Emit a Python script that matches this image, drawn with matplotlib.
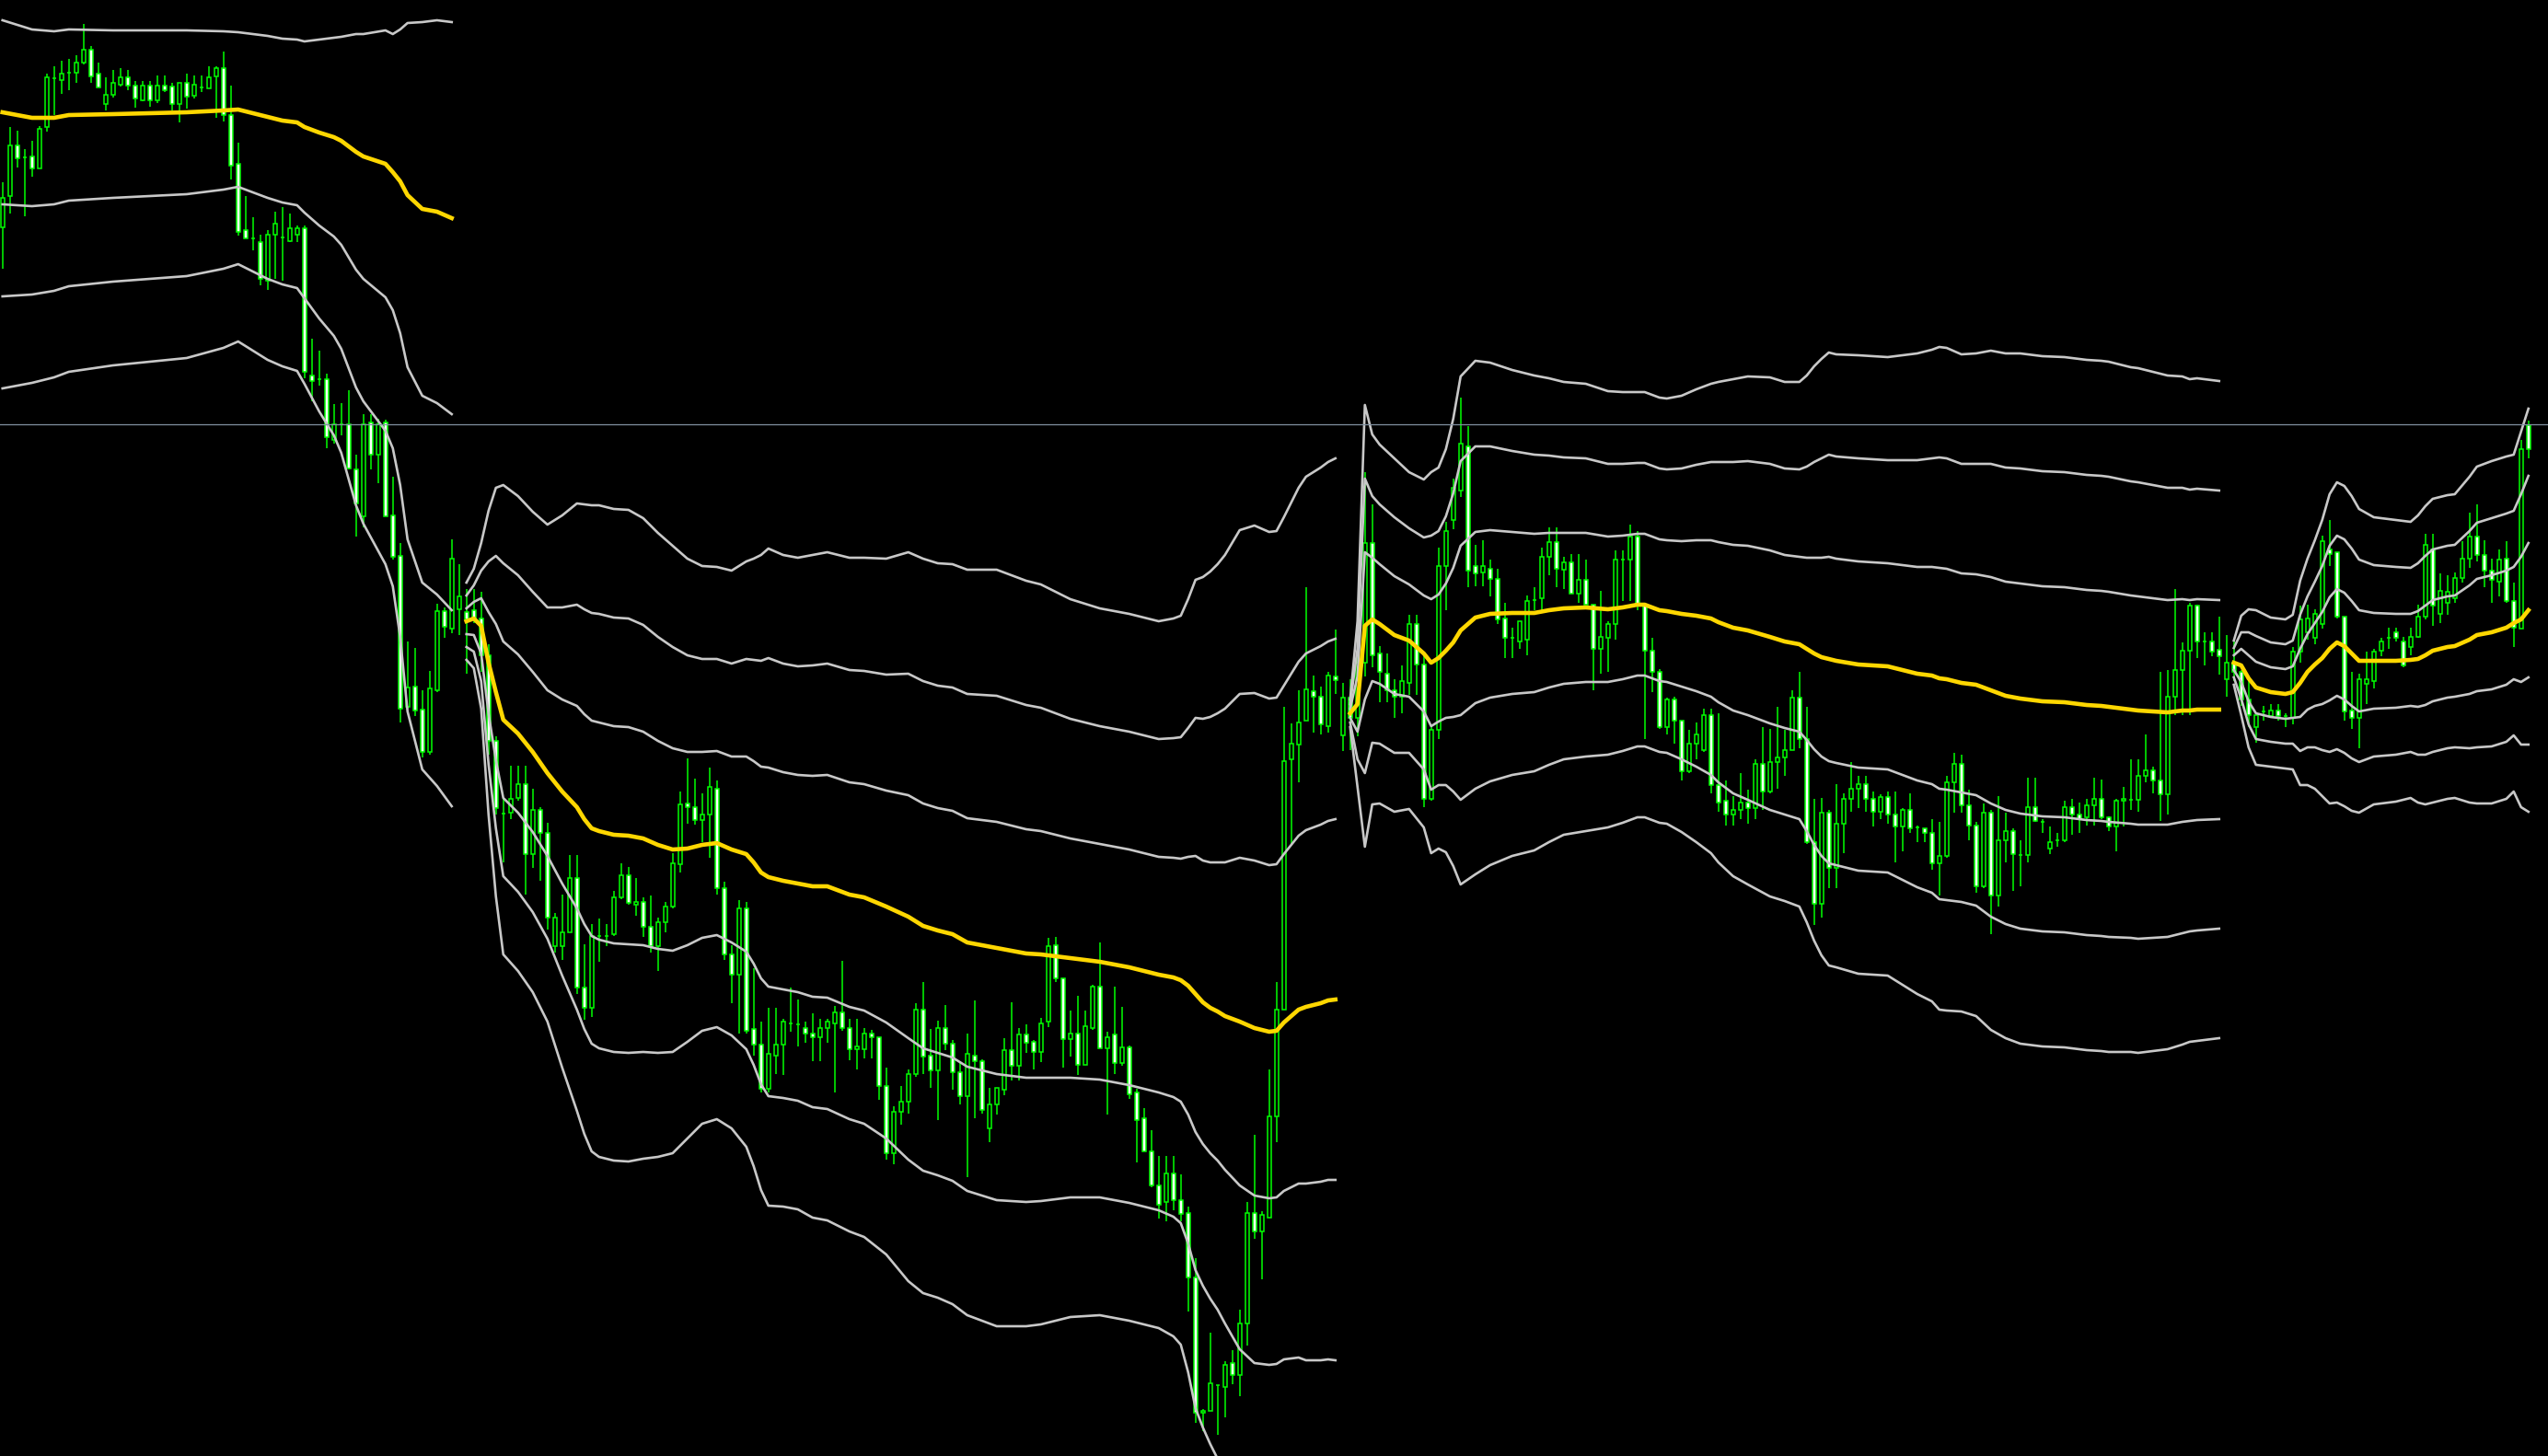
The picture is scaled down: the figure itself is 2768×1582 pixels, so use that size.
import numpy as np
import matplotlib
matplotlib.use('Agg')
import matplotlib.pyplot as plt

# bar data, price in points (one row = 10 bars)
opens = [
    1753, 1787, 1842, 1829, 1830, 1817, 1862, 1915, 1913, 1921,
    1921, 1932, 1946, 1920, 1887, 1897, 1908, 1916, 1907, 1891,
    1907, 1891, 1907, 1906, 1887, 1910, 1896, 1905, 1904, 1917,
    1926, 1875, 1822, 1750, 1741, 1737, 1695, 1745, 1742, 1738,
    1745, 1752, 1592, 1588, 1588, 1522, 1539, 1539, 1490, 1439,
    1541, 1506, 1541, 1440, 1396, 1232, 1254, 1229, 1183, 1250,
    1336, 1317, 1338, 1335, 1337, 1328, 1288, 1195, 1116, 1117,
    1133, 1148, 1072, 1120, 1095, 972, 972, 987, 1046, 927,
    905, 983, 983, 985, 1025, 1049, 1017, 1020, 993, 972,
    998, 1015, 1061, 1127, 1123, 1109, 1115, 1143, 1035, 963,
    941, 1013, 882, 865, 817, 853, 865, 888, 887, 883,
    877, 873, 883, 888, 900, 883, 860, 860, 877, 873,
    820, 747, 792, 803, 833, 903, 853, 837, 883, 866,
    835, 809, 853, 847, 774, 800, 816, 859, 842, 876,
    868, 857, 890, 973, 937, 871, 877, 843, 883, 928,
    861, 876, 845, 862, 813, 785, 749, 712, 694, 725,
    696, 682, 612, 465, 467, 495, 493, 519, 506, 562,
    682, 662, 677, 787, 903, 1175, 1191, 1217, 1249, 1243,
    1211, 1265, 1201, 1242, 1220, 1280, 1410, 1290, 1268, 1250,
    1243, 1258, 1322, 1278, 1132, 1207, 1385, 1435, 1467, 1515,
    1385, 1378, 1382, 1371, 1328, 1307, 1303, 1305, 1348, 1350,
    1395, 1411, 1381, 1389, 1355, 1370, 1343, 1295, 1307, 1322,
    1392, 1392, 1417, 1343, 1293, 1270, 1210, 1240, 1217, 1162,
    1192, 1185, 1223, 1147, 1130, 1115, 1120, 1128, 1122, 1170,
    1140, 1172, 1177, 1185, 1242, 1197, 1085, 1018, 1117, 1057,
    1105, 1132, 1143, 1148, 1132, 1118, 1134, 1115, 1102, 1120,
    1101, 1100, 1095, 1062, 1070, 1150, 1170, 1125, 1103, 1037,
    1117, 1027, 1087, 1097, 1071, 1071, 1123, 1107, 1078, 1087,
    1087, 1123, 1115, 1112, 1125, 1132, 1112, 1102, 1130, 1131,
    1131, 1157, 1163, 1152, 1137, 1243, 1272, 1293, 1342, 1303,
    1303, 1294, 1262, 1280, 1270, 1240, 1210, 1227, 1222, 1228,
    1222, 1220, 1292, 1313, 1307, 1322, 1403, 1400, 1330, 1228,
    1220, 1257, 1260, 1293, 1307, 1313, 1303, 1297, 1308, 1330,
    1403, 1333, 1345, 1350, 1372, 1393, 1417, 1397, 1380, 1368,
    1393, 1347, 1317, 1538,
]
highs = [
    1802, 1862, 1858, 1838, 1847, 1863, 1920, 1928, 1934, 1936,
    1940, 1974, 1950, 1932, 1916, 1924, 1926, 1924, 1912, 1912,
    1912, 1918, 1918, 1910, 1910, 1920, 1918, 1918, 1928, 1928,
    1944, 1907, 1845, 1787, 1764, 1745, 1750, 1770, 1775, 1768,
    1755, 1755, 1632, 1619, 1594, 1561, 1562, 1576, 1506, 1550,
    1550, 1545, 1544, 1482, 1410, 1303, 1296, 1250, 1271, 1344,
    1340, 1414, 1387, 1360, 1360, 1357, 1300, 1200, 1133, 1168,
    1168, 1168, 1143, 1123, 1106, 1008, 1028, 1071, 1071, 974,
    996, 1002, 996, 1032, 1062, 1058, 1046, 1025, 1027, 1003,
    1020, 1073, 1140, 1176, 1154, 1138, 1166, 1152, 1042, 973,
    1022, 1020, 948, 890, 905, 905, 893, 927, 914, 890,
    899, 893, 893, 907, 956, 893, 893, 883, 881, 873,
    840, 798, 820, 838, 910, 933, 882, 891, 908, 870,
    845, 877, 913, 849, 818, 818, 872, 911, 883, 887,
    870, 894, 981, 982, 937, 902, 918, 902, 930, 976,
    879, 928, 906, 864, 817, 796, 772, 744, 744, 744,
    724, 689, 633, 469, 552, 495, 521, 533, 577, 694,
    767, 684, 838, 933, 1232, 1214, 1250, 1362, 1266, 1254,
    1270, 1316, 1258, 1262, 1300, 1487, 1452, 1298, 1290, 1262,
    1277, 1332, 1332, 1288, 1210, 1405, 1433, 1480, 1568, 1537,
    1408, 1413, 1392, 1382, 1345, 1318, 1325, 1353, 1362, 1405,
    1427, 1427, 1395, 1398, 1398, 1392, 1343, 1358, 1325, 1402,
    1402, 1430, 1423, 1343, 1307, 1273, 1242, 1243, 1217, 1207,
    1215, 1230, 1230, 1225, 1152, 1135, 1160, 1142, 1175, 1210,
    1208, 1232, 1207, 1250, 1270, 1232, 1132, 1133, 1120, 1148,
    1138, 1172, 1157, 1157, 1140, 1137, 1140, 1140, 1122, 1138,
    1103, 1100, 1110, 1107, 1157, 1182, 1180, 1142, 1107, 1127,
    1120, 1135, 1117, 1100, 1087, 1155, 1155, 1110, 1102, 1095,
    1130, 1132, 1128, 1132, 1155, 1153, 1113, 1132, 1145, 1175,
    1175, 1202, 1167, 1270, 1272, 1360, 1302, 1345, 1343, 1313,
    1313, 1330, 1310, 1305, 1272, 1265, 1225, 1233, 1235, 1235,
    1225, 1297, 1342, 1343, 1338, 1418, 1435, 1400, 1330, 1270,
    1268, 1292, 1295, 1307, 1318, 1318, 1308, 1318, 1343, 1420,
    1420, 1377, 1375, 1378, 1412, 1443, 1452, 1413, 1393, 1403,
    1412, 1367, 1522, 1543,
]
lows = [
    1708, 1768, 1818, 1765, 1808, 1817, 1857, 1875, 1898, 1902,
    1910, 1930, 1910, 1905, 1880, 1894, 1906, 1902, 1883, 1890,
    1884, 1888, 1900, 1880, 1867, 1882, 1893, 1900, 1904, 1872,
    1868, 1805, 1744, 1741, 1728, 1690, 1685, 1697, 1695, 1737,
    1737, 1589, 1564, 1581, 1513, 1518, 1527, 1490, 1417, 1427,
    1490, 1475, 1439, 1392, 1215, 1230, 1222, 1177, 1180, 1248,
    1307, 1312, 1310, 1268, 1323, 1270, 1180, 1115, 1063, 1110,
    1130, 1028, 1057, 1043, 990, 965, 957, 987, 920, 892,
    895, 955, 972, 983, 1023, 1017, 1005, 982, 965, 945,
    987, 1013, 1052, 1105, 1104, 1085, 1068, 1028, 957, 910,
    877, 877, 853, 813, 813, 833, 832, 879, 863, 867,
    847, 847, 867, 813, 880, 848, 838, 850, 850, 805,
    740, 735, 778, 790, 830, 833, 818, 783, 859, 816,
    800, 721, 785, 790, 759, 789, 810, 826, 826, 856,
    838, 846, 884, 933, 840, 852, 832, 843, 881, 861,
    789, 833, 842, 806, 737, 749, 710, 676, 673, 685,
    673, 575, 454, 445, 467, 441, 460, 496, 483, 538,
    654, 610, 677, 759, 903, 1083, 1150, 1217, 1204, 1202,
    1204, 1246, 1184, 1185, 1200, 1265, 1275, 1237, 1237, 1220,
    1225, 1245, 1245, 1123, 1130, 1197, 1337, 1425, 1460, 1362,
    1363, 1363, 1352, 1322, 1285, 1285, 1295, 1288, 1337, 1337,
    1375, 1362, 1360, 1355, 1345, 1343, 1250, 1268, 1270, 1305,
    1347, 1347, 1337, 1197, 1248, 1208, 1202, 1192, 1152, 1160,
    1175, 1183, 1138, 1118, 1103, 1103, 1110, 1105, 1110, 1120,
    1138, 1143, 1157, 1185, 1187, 1083, 995, 1003, 1035, 1035,
    1073, 1118, 1122, 1118, 1102, 1110, 1105, 1063, 1075, 1095,
    1085, 1085, 1055, 1027, 1068, 1117, 1117, 1087, 1030, 1035,
    985, 1015, 1063, 1032, 1037, 1063, 1107, 1095, 1072, 1080,
    1085, 1093, 1095, 1103, 1103, 1110, 1097, 1075, 1102, 1120,
    1118, 1150, 1138, 1108, 1115, 1223, 1223, 1223, 1285, 1277,
    1287, 1267, 1243, 1260, 1233, 1210, 1193, 1217, 1222, 1217,
    1210, 1213, 1280, 1305, 1300, 1317, 1385, 1328, 1217, 1208,
    1187, 1235, 1252, 1287, 1295, 1303, 1275, 1288, 1307, 1327,
    1320, 1323, 1332, 1345, 1367, 1383, 1390, 1362, 1345, 1352,
    1345, 1297, 1317, 1502,
]
closes = [
    1785, 1842, 1828, 1829, 1817, 1860, 1916, 1915, 1920, 1921,
    1932, 1946, 1917, 1905, 1897, 1910, 1916, 1907, 1893, 1907,
    1891, 1907, 1902, 1887, 1910, 1895, 1908, 1905, 1916, 1926,
    1875, 1820, 1748, 1741, 1741, 1697, 1745, 1757, 1742, 1752,
    1752, 1596, 1586, 1588, 1525, 1539, 1539, 1491, 1453, 1539,
    1506, 1539, 1439, 1395, 1230, 1253, 1228, 1183, 1252, 1336,
    1319, 1393, 1352, 1327, 1328, 1288, 1195, 1122, 1116, 1132,
    1148, 1072, 1120, 1095, 1003, 1003, 987, 1046, 927, 905,
    983, 983, 983, 1025, 1049, 1019, 1020, 993, 972, 998,
    1015, 1062, 1126, 1123, 1109, 1115, 1145, 1035, 963, 941,
    1013, 880, 865, 817, 855, 865, 890, 888, 887, 877,
    873, 883, 890, 900, 883, 860, 863, 877, 873, 820,
    747, 792, 803, 833, 903, 852, 837, 883, 866, 835,
    809, 855, 847, 794, 800, 818, 859, 842, 876, 867,
    857, 888, 972, 937, 871, 877, 843, 885, 928, 861,
    873, 845, 862, 811, 783, 749, 712, 691, 725, 696,
    681, 612, 465, 467, 497, 495, 517, 506, 562, 682,
    662, 680, 787, 903, 1173, 1192, 1215, 1251, 1243, 1213,
    1266, 1261, 1242, 1220, 1280, 1410, 1288, 1270, 1250, 1243,
    1260, 1322, 1278, 1132, 1207, 1385, 1423, 1470, 1518, 1380,
    1377, 1385, 1371, 1327, 1307, 1307, 1325, 1347, 1348, 1395,
    1411, 1382, 1389, 1355, 1370, 1343, 1295, 1308, 1322, 1392,
    1392, 1417, 1343, 1293, 1270, 1210, 1240, 1217, 1162, 1192,
    1202, 1223, 1147, 1128, 1115, 1120, 1128, 1122, 1170, 1140,
    1172, 1177, 1185, 1242, 1197, 1085, 1018, 1117, 1057, 1105,
    1132, 1143, 1148, 1132, 1118, 1134, 1115, 1102, 1120, 1100,
    1101, 1095, 1062, 1070, 1150, 1170, 1125, 1103, 1037, 1117,
    1027, 1087, 1097, 1072, 1071, 1123, 1108, 1107, 1085, 1087,
    1123, 1115, 1110, 1125, 1132, 1112, 1102, 1130, 1132, 1131,
    1157, 1163, 1152, 1137, 1243, 1272, 1293, 1342, 1303, 1303,
    1292, 1287, 1280, 1270, 1240, 1223, 1223, 1227, 1228, 1222,
    1222, 1292, 1327, 1328, 1333, 1412, 1398, 1330, 1227, 1220,
    1262, 1262, 1292, 1303, 1307, 1307, 1277, 1308, 1330, 1408,
    1342, 1358, 1357, 1372, 1393, 1417, 1397, 1380, 1370, 1392,
    1347, 1318, 1512, 1512,
]

# session VWAP and its standard deviation, sampled at bar numbers
s1_bar = [0, 2, 4, 7, 9, 15, 20, 25, 30, 32, 34, 36, 38, 40, 41, 43, 45, 46,
          48, 49, 52, 53, 54, 55, 57, 59, 61]
s1_vwap = [1878, 1875, 1872, 1872, 1875, 1876, 1877, 1878, 1880, 1881, 1877,
           1873, 1869, 1867, 1862, 1856, 1851, 1847, 1835, 1830, 1822, 1813,
           1803, 1788, 1773, 1770, 1763]
s1_dev = [100, 98, 96, 94, 93, 91, 90, 89, 86, 84, 86, 88, 89, 90, 93, 101,
          108, 113, 128, 133, 145, 150, 165, 187, 203, 208, 213]

s2_bar = [63, 64, 65, 66, 67, 68, 70, 72, 74, 76, 78, 79, 80, 81, 83, 85, 87,
          89, 91, 93, 95, 97, 99, 101, 102, 103, 104, 106, 108, 110, 112, 115,
          117, 120, 123, 125, 127, 129, 131, 133, 135, 137, 139, 141, 143, 145,
          147, 149, 151, 153, 155, 157, 159, 160, 161, 162, 163, 164, 165, 166,
          168, 170, 172, 173, 174, 175, 176, 177, 179, 180, 181]
s2_vwap = [1325, 1328, 1320, 1280, 1248, 1218, 1203, 1183, 1160, 1140, 1123,
           1110, 1100, 1097, 1093, 1092, 1089, 1082, 1077, 1078, 1082, 1084,
           1077, 1072, 1063, 1052, 1047, 1043, 1040, 1037, 1037, 1028, 1025,
           1015, 1004, 994, 989, 985, 976, 973, 970, 967, 964, 963, 961, 959,
           957, 955, 952, 949, 945, 941, 938, 935, 929, 920, 911, 905, 901,
           896, 890, 883, 879, 880, 889, 896, 903, 906, 910, 913, 914]
s2_dev = [14, 18, 30, 55, 74, 85, 86, 87, 90, 100, 110, 114, 117, 118, 118, 118,
          116, 113, 110, 105, 101, 100, 101, 106, 110, 115, 119, 118, 118, 120,
          121, 122, 123, 126, 132, 133, 133, 134, 135, 136, 137, 136, 135, 134,
          132, 130, 129, 128, 128, 128, 128, 128, 130, 132, 140, 150, 154, 158,
          162, 167, 178, 182, 181, 181, 183, 186, 189, 192, 194, 195, 196]

s3_bar = [183, 184, 185, 186, 187, 189, 191, 193, 194, 195, 196, 197, 198, 200,
          202, 205, 208, 210, 212, 215, 218, 220, 222, 223, 225, 226, 228, 230,
          232, 233, 235, 237, 240, 242, 244, 245, 246, 247, 248, 249, 252, 256,
          258, 260, 262, 263, 264, 266, 268, 270, 272, 274, 276, 277, 280, 283,
          285, 286, 289, 290, 292, 294, 296, 297, 298, 301]
s3_vwap = [1225, 1235, 1320, 1327, 1322, 1310, 1304, 1290, 1280, 1285, 1293,
           1302, 1315, 1329, 1333, 1334, 1334, 1337, 1339, 1340, 1338, 1340,
           1343, 1343, 1337, 1336, 1333, 1331, 1328, 1324, 1318, 1315, 1308,
           1303, 1300, 1295, 1290, 1286, 1284, 1282, 1278, 1276, 1272, 1268,
           1266, 1263, 1262, 1258, 1256, 1250, 1244, 1241, 1239, 1238, 1237,
           1234, 1233, 1232, 1229, 1228, 1227, 1226, 1228, 1228, 1229, 1229]
s3_dev = [5, 30, 80, 67, 65, 64, 61, 63, 69, 69, 73, 81, 92, 93, 91, 88, 86, 84,
          82, 81, 79, 78, 77, 77, 77, 77, 79, 82, 85, 87, 90, 92, 94, 94, 95,
          99, 104, 108, 111, 111, 112, 112, 114, 116, 118, 120, 120, 119, 120,
          123, 124, 125, 125, 125, 125, 125, 125, 125, 124, 124, 123, 122, 121,
          120, 120, 119]

s4_bar = [303, 304, 305, 306, 308, 310, 311, 312, 313, 314, 315, 316, 317, 318,
          319, 320, 322, 325, 327, 328, 329, 330, 332, 333, 335, 336, 338, 340,
          341, 342, 343]
s4_vwap = [1280, 1277, 1263, 1253, 1248, 1246, 1248, 1258, 1270, 1278, 1285,
           1295, 1302, 1298, 1290, 1282, 1282, 1282, 1283, 1284, 1288, 1293,
           1297, 1298, 1305, 1310, 1313, 1318, 1323, 1327, 1337]
s4_dev = [8, 18, 25, 28, 27, 27, 28, 37, 41, 45, 50, 56, 58, 58, 57, 55, 52, 51,
          50, 52, 54, 55, 55, 55, 59, 61, 62, 62, 61, 68, 73]

hline_level = 1539

fig = plt.figure(figsize=(27.68, 15.82), dpi=100, facecolor='black')
ax = fig.add_axes([0, 0, 1, 1])
ax.set_facecolor('black')
ax.set_axis_off()

o = np.array(opens)
h = np.array(highs)
l = np.array(lows)
c = np.array(closes)
x = np.arange(len(o))
bull = c >= o

ax.vlines(x, l, h, colors='#00ff00', linewidth=1.1, zorder=2)
ax.bar(x, np.abs(c - o), 0.54, np.minimum(o, c),
       color=np.where(bull, 'black', 'white'), edgecolor='#00ff00',
       linewidth=1.1, zorder=3)

sessions = [(s1_bar, s1_vwap, s1_dev), (s2_bar, s2_vwap, s2_dev),
            (s3_bar, s3_vwap, s3_dev), (s4_bar, s4_vwap, s4_dev)]
for bars, vw, sd in sessions:
    vw = np.array(vw)
    sd = np.array(sd)
    for k in (1, 2, 3):
        ax.plot(bars, vw + k * sd, color='#c8c8c8', linewidth=1.9, zorder=4)
        ax.plot(bars, vw - k * sd, color='#c8c8c8', linewidth=1.9, zorder=4)
    ax.plot(bars, vw, color='#ffd700', linewidth=3.3, zorder=5)

ax.axhline(hline_level, color='#8090a0', linewidth=0.9, zorder=6)

ax.set_xlim(-0.34, 345.66)
ax.set_ylim(418, 2000)

fig.savefig('out.png', dpi=100, facecolor='black')
